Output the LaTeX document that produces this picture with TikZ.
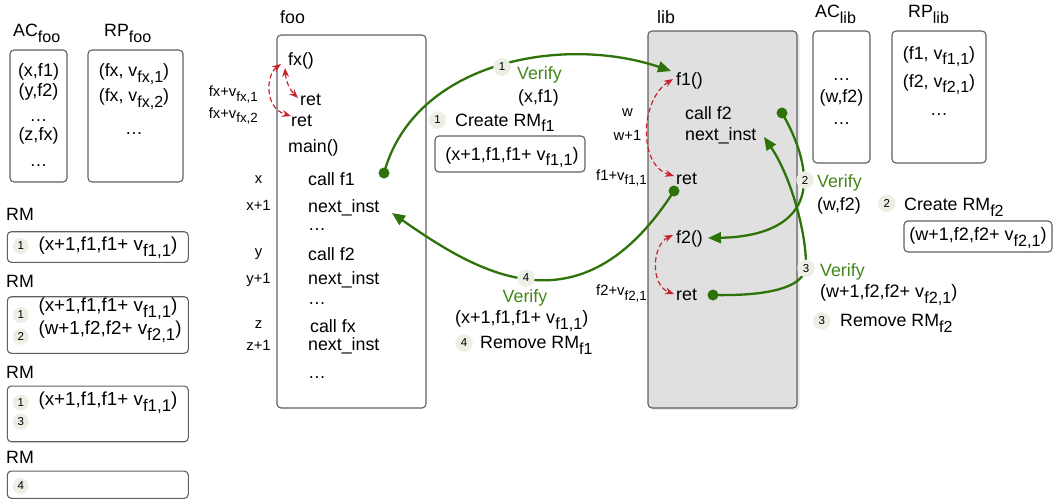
\documentclass[tikz,border=0pt]{standalone}
\usepackage{fontspec}
\setmainfont{Liberation Sans}
\usetikzlibrary{arrows.meta}

\definecolor{flowgreen}{RGB}{45,115,10}
\definecolor{verifygreen}{RGB}{65,135,25}
\definecolor{retred}{RGB}{200,35,45}
\definecolor{badgefill}{RGB}{236,239,228}
\definecolor{libfill}{RGB}{224,224,224}
\definecolor{edgegray}{RGB}{95,95,95}

% lowered subscript in the running text font
\newcommand\sbx[1]{\raisebox{-0.33em}{\scalebox{0.9}{#1}}}

\begin{document}
\begin{tikzpicture}[x=1pt,y=-1pt,
  txt/.style={inner sep=0pt, font=\fontsize{17.8}{20}\selectfont},
  lbl/.style={inner sep=0pt, font=\fontsize{14.8}{17}\selectfont},
  tupl/.style={inner sep=0pt, font=\fontsize{18.8}{21}\selectfont},
  tups/.style={inner sep=0pt, font=\fontsize{18}{20}\selectfont},
  verify/.style={txt, text=verifygreen},
  panel/.style={draw=edgegray, line width=1.1pt, rounded corners=4pt, inner sep=0pt},
  badge/.style={circle, fill=badgefill, minimum size=17.5pt, inner sep=0pt, font=\fontsize{11.5}{12}\selectfont},
  sbadge/.style={badge, minimum size=16pt},
  dot/.style={circle, fill=flowgreen, minimum size=11pt, inner sep=0pt},
  flow/.style={draw=flowgreen, line width=2.3pt, -{Triangle[length=13pt,width=11pt]}},
  retlink/.style={draw=retred, line width=1.2pt, dash pattern=on 5pt off 3pt,
    {Stealth[length=9pt,width=7pt]}-{Stealth[length=9pt,width=7pt]}},
]
\useasboundingbox (0,0) rectangle (1053,501);

% ---------- tables of foo ----------
\node[txt, anchor=base west] (acfoolbl) at (13,36.5) {AC\sbx{foo}};
\node[txt, anchor=base west] (rpfoolbl) at (104,36.5) {RP\sbx{foo}};
\node[panel, minimum width=57pt, minimum height=132pt] (acfoo) at (38.5,116) {};
\node[panel, minimum width=95pt, minimum height=132pt] (rpfoo) at (135.5,116) {};
\node[tups, anchor=base] (acf1) at (38.5,76.5) {(x,f1)};
\node[tups, anchor=base] (acf2) at (38.5,96.5) {(y,f2)};
\node[txt, anchor=base] (acf3) at (38.5,121) {…};
\node[tups, anchor=base] (acf4) at (38.5,140.5) {(z,fx)};
\node[txt, anchor=base] (acf5) at (38.5,166) {…};
\node[txt, anchor=base] (rpf1) at (134,76.5) {(fx, v\sbx{fx,1})};
\node[txt, anchor=base] (rpf2) at (134,101.5) {(fx, v\sbx{fx,2})};
\node[txt, anchor=base] (rpf3) at (134,134) {…};

% ---------- removal-map snapshots ----------
\node[txt, anchor=base west] (rmlbl1) at (6,220.7) {RM};
\node[panel, minimum width=181pt, minimum height=30.6pt] (rm1) at (97.8,247) {};
\node[sbadge] (rm1b1) at (20.7,246) {1};
\node[tupl, anchor=base west] (rm1t1) at (38.3,250) {(x+1,f1,f1+ v\sbx{f1,1})};

\node[txt, anchor=base west] (rmlbl2) at (6,287.3) {RM};
\node[panel, minimum width=181pt, minimum height=56.6pt] (rm2) at (97.8,325) {};
\node[sbadge] (rm2b1) at (20.7,315) {1};
\node[sbadge] (rm2b2) at (20.7,336.7) {2};
\node[tupl, anchor=base west] (rm2t1) at (38.3,311.5) {(x+1,f1,f1+ v\sbx{f1,1})};
\node[tupl, anchor=base west] (rm2t2) at (38.3,334.3) {(w+1,f2,f2+ v\sbx{f2,1})};

\node[txt, anchor=base west] (rmlbl3) at (6,378.3) {RM};
\node[panel, minimum width=181pt, minimum height=55.7pt] (rm3) at (97.8,413.9) {};
\node[sbadge] (rm3b1) at (20.7,402.7) {1};
\node[sbadge] (rm3b3) at (20.7,421.7) {3};
\node[tupl, anchor=base west] (rm3t1) at (38.3,405.7) {(x+1,f1,f1+ v\sbx{f1,1})};

\node[txt, anchor=base west] (rmlbl4) at (6,463.3) {RM};
\node[panel, minimum width=181pt, minimum height=27.3pt] (rm4) at (97.8,484.7) {};
\node[sbadge] (rm4b4) at (20.7,486) {4};

% ---------- module foo ----------
\node[txt, anchor=base west] (foolbl) at (280,23.3) {foo};
\node[panel, minimum width=149pt, minimum height=373pt] (foo) at (351.5,221.5) {};
\node[txt, anchor=base west] (fxfn) at (288,65) {fx()};
\node[txt, anchor=base west] (fxret1) at (300,105) {ret};
\node[txt, anchor=base west] (fxret2) at (291,126) {ret};
\node[txt, anchor=base west] (mainfn) at (288,152) {main()};
\node[txt, anchor=base west] (callf1) at (308,185.6) {call f1};
\node[txt, anchor=base west] (nextx) at (308,212) {next\_inst};
\node[txt, anchor=base west] (dotsx) at (308,230.5) {…};
\node[txt, anchor=base west] (callf2) at (308,260.7) {call f2};
\node[txt, anchor=base west] (nexty) at (308,284) {next\_inst};
\node[txt, anchor=base west] (dotsy) at (308,304.7) {…};
\node[txt, anchor=base west] (callfx) at (310,332) {call fx};
\node[txt, anchor=base west] (nextz) at (308,350) {next\_inst};
\node[txt, anchor=base west] (dotsz) at (308,378) {…};

\node[lbl, anchor=base] (addrx) at (258.5,183.3) {x};
\node[lbl, anchor=base] (addrx1) at (258.5,210.7) {x+1};
\node[lbl, anchor=base] (addry) at (258.5,256) {y};
\node[lbl, anchor=base] (addry1) at (258.5,283) {y+1};
\node[lbl, anchor=base] (addrz) at (258.5,328) {z};
\node[lbl, anchor=base] (addrz1) at (258.5,350) {z+1};
\node[lbl, anchor=base east] (fxv1) at (258,96.7) {fx+v\sbx{fx,1}};
\node[lbl, anchor=base east] (fxv2) at (258,118) {fx+v\sbx{fx,2}};

% ---------- module lib ----------
\node[txt, anchor=base west] (liblbl) at (657,23.3) {lib};
\fill[gray!35, opacity=0.5, rounded corners=4pt] (650,33) rectangle (799.5,410);
\node[panel, fill=libfill, minimum width=149pt, minimum height=377pt] (lib) at (722.5,219.5) {};
\node[txt, anchor=base west] (f1fn) at (676,85) {f1()};
\node[txt, anchor=base west] (libcall) at (685,119) {call f2};
\node[txt, anchor=base west] (libnext) at (685,140) {next\_inst};
\node[txt, anchor=base west] (f1ret) at (676,184) {ret};
\node[txt, anchor=base west] (f2fn) at (676,243) {f2()};
\node[txt, anchor=base west] (f2ret) at (676,300) {ret};

\node[lbl, anchor=base] (addrw) at (627.5,116.5) {w};
\node[lbl, anchor=base] (addrw1) at (627.5,140) {w+1};
\node[lbl, anchor=base east] (f1v) at (647,180) {f1+v\sbx{f1,1}};
\node[lbl, anchor=base east] (f2v) at (647,295.5) {f2+v\sbx{f2,1}};

% ---------- tables of lib ----------
\node[txt, anchor=base west] (aclibl) at (815,17.3) {AC\sbx{lib}};
\node[txt, anchor=base west] (rplibl) at (908,17.3) {RP\sbx{lib}};
\node[panel, minimum width=57pt, minimum height=132pt] (aclib) at (841.5,97) {};
\node[panel, minimum width=94pt, minimum height=132pt] (rplib) at (939,97) {};
\node[txt, anchor=base] (acl1) at (841.5,80) {…};
\node[txt, anchor=base] (acl2) at (841.5,102) {(w,f2)};
\node[txt, anchor=base] (acl3) at (841.5,124) {…};
\node[txt, anchor=base] (rpl1) at (939,59) {(f1, v\sbx{f1,1})};
\node[txt, anchor=base] (rpl2) at (939,87) {(f2, v\sbx{f2,1})};
\node[txt, anchor=base] (rpl3) at (939,115) {…};

% ---------- red dashed return links ----------
\coordinate (ra1) at (285,68);  \coordinate (rb1) at (298,98);
\coordinate (ra2) at (281,64);  \coordinate (rb2) at (291,116);
\coordinate (ra3) at (673,79);  \coordinate (rb3) at (674,176);
\coordinate (ra4) at (673,235); \coordinate (rb4) at (674,294);
\draw[retlink] (ra1) .. controls (286,82) and (290,90) .. (rb1);
\draw[retlink] (ra2) .. controls (266,75) and (264,108) .. (rb2);
\draw[retlink] (ra3) .. controls (640,100) and (638,165) .. (rb3);
\draw[retlink] (ra4) .. controls (652,245) and (650,285) .. (rb4);

% ---------- green control flow ----------
\node[dot] (d1) at (384,173) {};
\node[dot] (d4) at (674,191) {};
\node[dot] (d2) at (782,113) {};
\node[dot] (d3) at (713,295) {};
\coordinate (t1) at (671,71);
\coordinate (t4) at (392,213);
\coordinate (t2) at (708,238);
\coordinate (t3) at (764,137);
\coordinate (k2) at (804,180);
\coordinate (k3) at (806,265);

\draw[flow] (d1.center) .. controls (415,60) and (565,35) .. (t1);
\draw[flow] (d4.center) .. controls (580.5,336.5) and (477.5,272.5) .. (t4);
\draw[flow] (d2.center) .. controls (795,135) and (804,160) .. (k2)
                        .. controls (804,222) and (765,237) .. (t2);
\draw[flow] (d3.center) .. controls (760,296) and (806,290) .. (k3)
                        .. controls (806,230) and (790,175) .. (t3);

% ---------- step 1 ----------
\node[badge] (s1a) at (502,67) {1};
\node[verify, anchor=base west] (v1) at (517,79.3) {Verify};
\node[txt, anchor=base west] (v1arg) at (518,102.3) {(x,f1)};
\node[badge] (s1b) at (437.5,120) {1};
\node[txt, anchor=base west] (c1) at (455,126) {Create RM\sbx{f1}};
\node[panel, minimum width=150pt, minimum height=36pt] (c1box) at (510,154) {};
\node[tups, anchor=base] (c1t) at (512,160) {(x+1,f1,f1+ v\sbx{f1,1})};

% ---------- step 2 ----------
\node[badge] (s2a) at (805,180) {2};
\node[verify, anchor=base west] (v2) at (817,187) {Verify};
\node[txt, anchor=base west] (v2arg) at (817,210.7) {(w,f2)};
\node[badge] (s2b) at (886.7,203.3) {2};
\node[txt, anchor=base west] (c2) at (904,210.7) {Create RM\sbx{f2}};
\node[panel, minimum width=148pt, minimum height=31pt] (c2box) at (978,236.5) {};
\node[tups, anchor=base] (c2t) at (978,240.7) {(w+1,f2,f2+ v\sbx{f2,1})};

% ---------- step 3 ----------
\node[badge] (s3a) at (806,268.3) {3};
\node[verify, anchor=base west] (v3) at (820,276.7) {Verify};
\node[tups, anchor=base west] (v3arg) at (820,297.7) {(w+1,f2,f2+ v\sbx{f2,1})};
\node[badge] (s3b) at (821.7,321) {3};
\node[txt, anchor=base west] (r3) at (840,326.7) {Remove RM\sbx{f2}};

% ---------- step 4 ----------
\node[badge] (s4a) at (526,278) {4};
\node[verify, anchor=base] (v4) at (525,302.7) {Verify};
\node[tups, anchor=base west] (v4arg) at (455,323.3) {(x+1,f1,f1+ v\sbx{f1,1})};
\node[badge] (s4b) at (464,343) {4};
\node[txt, anchor=base west] (r4) at (480,348.3) {Remove RM\sbx{f1}};
\end{tikzpicture}
\end{document}
